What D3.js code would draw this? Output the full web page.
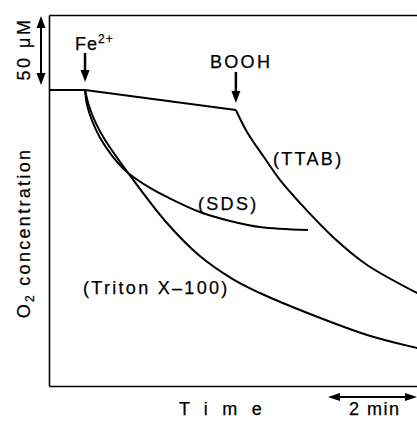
<!DOCTYPE html>
<html>
<head>
<meta charset="utf-8">
<script src="https://cdn.jsdelivr.net/npm/d3@7"></script>
<style>
  body { margin: 0; background: #fff; }
  text { font-family: "Liberation Sans", Arial, sans-serif; fill: #000; stroke: #000; stroke-width: 0.25px; }
</style>
</head>
<body>
<svg id="chart"></svg>
<script>
// time in min, O2 in uM
const baseTime = [0, 0.81, 4.2];
const baseO2 = [214.5, 214.5, 200.0];

const ttabTime = [4.20, 4.45, 4.83, 5.19, 5.64, 6.38, 7.15, 8.27, 8.45];
const ttabO2 = [200.0, 184.1, 165.9, 149.3, 132.6, 108.0, 87.7, 67.4, 64.5];

const sdsTime = [0.81, 0.85, 0.97, 1.15, 1.44, 1.78, 2.27, 2.65, 3.39, 4.07, 4.74, 5.82];
const sdsO2 = [214.5, 204.3, 192.0, 179.7, 165.9, 154.3, 143.5, 137.0, 126.1, 119.6, 115.2, 113.0];

const tritonTime = [0.81, 0.90, 1.06, 1.26, 1.78, 2.65, 3.39, 4.13, 4.74, 5.64, 7.15, 8.27, 8.45];
const tritonO2 = [214.5, 202.9, 189.9, 178.3, 154.3, 118.1, 94.2, 77.5, 67.4, 55.1, 37.0, 27.5, 26.1];

const feTime = 0.81;
const boohTime = 4.2;
const concBar = [218, 268];   // 50 uM
const timeBar = [6.27, 8.27]; // 2 min

const w = 417, h = 428;
const svg = d3.select('#chart').attr('width', w).attr('height', h);

const x = d3.scaleLinear().domain([0, 8.45]).range([49, 425]);
const y = d3.scaleLinear().domain([0, 268.8]).range([386, 15]);

// frame
const frame = g => g.selectAll('.domain').attr('stroke', '#000').attr('stroke-width', 1.6);
svg.append('g').attr('transform', 'translate(49,0)')
    .call(d3.axisLeft(y).ticks(0).tickSizeOuter(0)).call(frame);
svg.append('g').attr('transform', 'translate(0,386)')
    .call(d3.axisBottom(x).ticks(0).tickSizeOuter(0)).call(frame);
svg.append('g').attr('transform', 'translate(0,15)')
    .call(d3.axisTop(x).ticks(0).tickSizeOuter(0)).call(frame);

const straight = d3.line().x(d => x(d[0])).y(d => y(d[1]));
const smooth = d3.line()
    .x(d => x(d[0]))
    .y(d => y(d[1]))
    .curve(d3.curveCatmullRom.alpha(0.5));

const series = [
    d3.zip(baseTime, baseO2),
    d3.zip(ttabTime, ttabO2),
    d3.zip(sdsTime, sdsO2),
    d3.zip(tritonTime, tritonO2)
];

svg.selectAll('.curve')
    .data(series)
    .join('path')
    .attr('class', 'curve')
    .attr('d', (d, i) => i === 0 ? straight(d) : smooth(d))
    .attr('fill', 'none')
    .attr('stroke', '#000')
    .attr('stroke-width', 2)
    .attr('stroke-linejoin', 'round');

// arrow helpers
function head(px, py, dir, len = 12, half = 4.5) {
    let p;
    if (dir === 'down') p = [[px, py], [px - half, py - len], [px + half, py - len]];
    if (dir === 'up') p = [[px, py], [px - half, py + len], [px + half, py + len]];
    if (dir === 'left') p = [[px, py], [px + len, py - half], [px + len, py + half]];
    if (dir === 'right') p = [[px, py], [px - len, py - half], [px - len, py + half]];
    svg.append('path').attr('d', 'M' + p.join('L') + 'Z').attr('fill', '#000');
}
function shaft(x1, y1, x2, y2, sw = 2.5) {
    svg.append('line').attr('x1', x1).attr('y1', y1).attr('x2', x2).attr('y2', y2)
        .attr('stroke', '#000').attr('stroke-width', sw);
}

// Fe2+ arrow
const feX = x(feTime), feTip = y(baseO2[1]) - 8;
shaft(feX, feTip - 29, feX, feTip - 8);
head(feX, feTip, 'down');

// BOOH arrow
const bX = x(boohTime), bTip = y(baseO2[2]) - 7;
shaft(bX, bTip - 31, bX, bTip - 8);
head(bX, bTip, 'down');

// 50 uM scale bar
const sbX = 41;
shaft(sbX, y(concBar[1]) + 6, sbX, y(concBar[0]) - 6, 2);
head(sbX, y(concBar[1]), 'up');
head(sbX, y(concBar[0]), 'down');

// 2 min bar
const tbY = 397;
shaft(x(timeBar[0]) + 6, tbY, x(timeBar[1]) - 6, tbY, 2);
head(x(timeBar[0]), tbY, 'left', 12, 4);
head(x(timeBar[1]), tbY, 'right', 12, 4);

// labels
const fs = '18px';
const lbl = (tx, ty, s, anchor = 'start', ls = 2.3) =>
    svg.append('text').attr('x', tx).attr('y', ty).attr('text-anchor', anchor)
        .style('font-size', fs).style('letter-spacing', ls + 'px').text(s);

lbl(273, 165, '(TTAB)');
lbl(198, 210, '(SDS)');
lbl(83, 294, '(Triton X–100)');
lbl(210, 68, 'BOOH');
lbl(179, 415, 'Time', 'start', 14.5);
lbl(349, 415, '2 min', 'start', 1.5);

const fe = svg.append('text').attr('x', 75).attr('y', 50).style('font-size', fs).style('letter-spacing', '1px');
fe.append('tspan').text('Fe');
fe.append('tspan').attr('dy', -7).style('font-size', '12px').text('2+');

const conc = svg.append('text').attr('transform', 'translate(30,233) rotate(-90)')
    .attr('text-anchor', 'middle').style('font-size', fs).style('letter-spacing', '2.3px');
conc.append('tspan').text('O');
conc.append('tspan').attr('dy', 4).style('font-size', '12px').text('2');
conc.append('tspan').attr('dy', -4).text('  concentration');

svg.append('text').attr('transform', 'translate(30,49) rotate(-90)')
    .attr('text-anchor', 'middle').style('font-size', fs).style('letter-spacing', '2.5px')
    .text('50 μM');
</script>
</body>
</html>
